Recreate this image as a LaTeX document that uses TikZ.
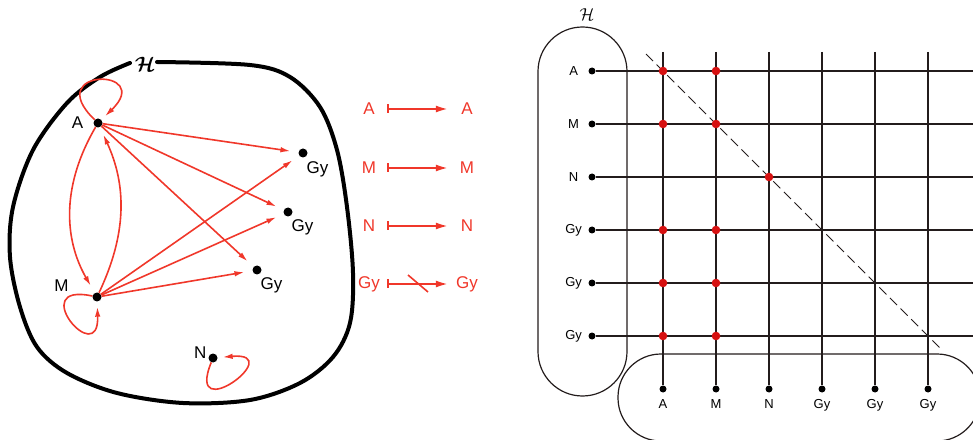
\documentclass[tikz,border=0pt]{standalone}
\usepackage{bm}
\usepackage{fontspec}
\setmainfont{Liberation Sans}
\usepackage{tikz}
\usetikzlibrary{arrows.meta,positioning,calc}
\definecolor{maparrow}{RGB}{240,55,42}
\definecolor{pairdotred}{RGB}{214,16,16}
\definecolor{gridink}{RGB}{35,28,28}
\newcommand{\pairdot}[2]{\fill[pairdotred] (c#1 |- r#2) circle (4.3pt);}
\newcommand{\bigfont}{\fontsize{17}{19}\selectfont}
\newcommand{\smallfont}{\fontsize{13}{15}\selectfont}

\begin{document}
\begin{tikzpicture}[x=1pt,y=1pt,
  vertex/.style={circle,fill=black,inner sep=0pt,minimum size=9pt},
  vname/.style={font=\bigfont,inner sep=0pt},
  rel/.style={draw=maparrow,line width=1.6pt,-{Latex[length=10pt,width=5.5pt]},shorten >=8pt},
  selfrel/.style={rel,shorten >=5pt},
  mapname/.style={font=\bigfont,text=maparrow,inner sep=0pt,minimum width=38pt},
  mapsto/.style={draw=maparrow,line width=1.8pt,-{Latex[length=12pt,width=7pt]}},
  mapbar/.style={draw=maparrow,line width=1.8pt},
  gdot/.style={circle,fill=black,inner sep=0pt,minimum size=7pt},
  gname/.style={font=\smallfont,inner sep=0pt,minimum width=20pt},
  gline/.style={draw=gridink,line width=1.2pt}]
\useasboundingbox (0,0) rectangle (973,439);
\draw[line width=4pt,line cap=round] plot[smooth,tension=0.55] coordinates {(157,377) (250,374) (290,362) (320,332) (337,289) (347,232) (353,166) (350,116) (333,82) (300,56) (250,39) (183,36) (117,46) (67,66) (37,92) (20,132) (10,182) (13,232) (33,289) (67,336) (100,362) (130,376)};
\node[font=\fontsize{21}{23}\selectfont] (hleft) at (145,375) {$\bm{\mathcal{H}}$};
\node[vertex] (a) at (98,316) {};
\node[vname,left=10pt of a] (aname) {A};
\node[vertex] (m) at (97,142) {};
\node[vname,above left=2pt and 25pt of m] (mname) {M};
\node[vertex] (n) at (213,81) {};
\node[vname,above left=-4pt and 3pt of n] (nname) {N};
\node[vertex] (gya) at (303,286) {};
\node[vname,below right=5pt and 0pt of gya] (gyaname) {Gy};
\node[vertex] (gyb) at (288,227) {};
\node[vname,below right=4pt and 0pt of gyb] (gybname) {Gy};
\node[vertex] (gyc) at (257,169) {};
\node[vname,below right=4pt and 0pt of gyc] (gycname) {Gy};
\draw[rel] (a) -- (gya);
\draw[rel] (a) -- (gyb);
\draw[rel] (a) -- (gyc);
\draw[rel] (m) -- (gya);
\draw[rel] (m) -- (gyb);
\draw[rel] (m) -- (gyc);
\draw[rel] (a) to[bend right=30] (m);
\draw[rel] (m) to[bend right=25] (a);
\draw[selfrel] (a) .. controls +(136:80) and +(44:80) .. (a);
\draw[selfrel] (m) .. controls +(168:74) and +(272:74) .. (m);
\draw[selfrel] (n) .. controls +(-112:76) and +(5:76) .. (n);
\foreach \name/\yy/\tag in {A/330/a,M/271/m,N/213/n,Gy/155/g} {
  \node[mapname] (left\tag) at (369,\yy) {\name};
  \node[mapname] (right\tag) at (467,\yy) {\name};
  \draw[mapsto] (left\tag) -- (right\tag);
  \draw[mapbar] (left\tag.east) ++(0,4.5) -- ++(0,-9);
}
\draw[maparrow,line width=1.6pt] ($(leftg)!0.5!(rightg)$) +(-10,9) -- +(10,-8);
\draw[gline,rounded corners=44.5pt] (538,43) rectangle (627,412);
\node[font=\fontsize{16}{18}\selectfont] (hright) at (587,424) {$\mathcal{H}$};
\draw[gline,rounded corners=43pt] (618,-2) rectangle (980,85);
\foreach \name [count=\i from 0] in {A,M,N,Gy,Gy,Gy} {
  \node[gdot] (r\i) at (592,368-53*\i) {};
  \node[gname,left=4.5pt of r\i] (rn\i) {\name};
  \coordinate (re\i) at (975,368-53*\i);
  \draw[gline] (r\i) -- (re\i);
  \node[gdot] (c\i) at (663+53*\i,50) {};
  \node[gname,below=7pt of c\i] (cn\i) {\name};
  \coordinate (ct\i) at (663+53*\i,387);
  \draw[gline] (ct\i) -- (c\i);
}
\coordinate (diagstart) at ($(c0|-r0)+(-17,17)$);
\coordinate (diagend) at ($(c5|-r5)+(12,-12)$);
\draw[gline,line width=1pt,dash pattern=on 10pt off 5pt] (diagstart) -- (diagend);
\pairdot{0}{0}\pairdot{1}{0}\pairdot{0}{1}\pairdot{1}{1}\pairdot{2}{2}
\pairdot{0}{3}\pairdot{1}{3}\pairdot{0}{4}\pairdot{1}{4}\pairdot{0}{5}\pairdot{1}{5}
\end{tikzpicture}
\end{document}
